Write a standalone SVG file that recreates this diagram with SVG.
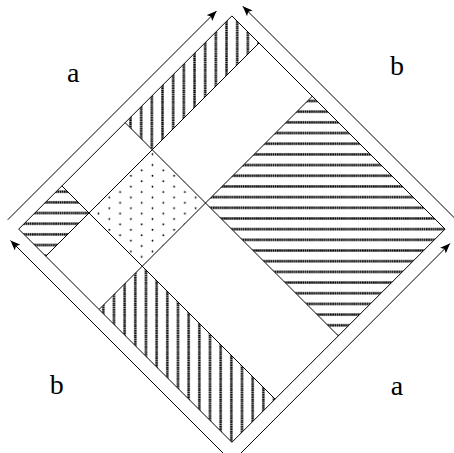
<svg xmlns="http://www.w3.org/2000/svg" width="454" height="453" viewBox="0 0 454 453">
<style>
.edge{fill:none;stroke:#000;stroke-width:1}
.arrow{fill:none;stroke:#000;stroke-width:1;marker-end:url(#ah)}
.hl{stroke:#000;stroke-width:2.4;stroke-dasharray:1.7 0.43}
.lbl{font-family:"Liberation Serif","DejaVu Serif",serif;font-size:28px;text-anchor:middle;fill:#000}
</style>
<defs>
<marker id="ah" viewBox="0 0 10 8" refX="10" refY="4" markerWidth="10" markerHeight="8" markerUnits="userSpaceOnUse" orient="auto">
<path d="M0,0 L10,4 L0,8 L2.2,4 Z" fill="#000"/>
</marker>
<pattern id="vTop" patternUnits="userSpaceOnUse" x="125.165" y="0" width="10.67" height="10.65">
<line class="hl" x1="5.335" y1="0" x2="5.335" y2="10.65"/>
</pattern>
<pattern id="vBot" patternUnits="userSpaceOnUse" x="97.965" y="0" width="10.67" height="10.65">
<line class="hl" x1="5.335" y1="0" x2="5.335" y2="10.65"/>
</pattern>
<pattern id="hRight" patternUnits="userSpaceOnUse" x="0" y="95.66" width="10.65" height="10.68">
<line class="hl" x1="0" y1="5.34" x2="10.65" y2="5.34"/>
</pattern>
<pattern id="hLeft" patternUnits="userSpaceOnUse" x="0" y="186.365" width="10.65" height="10.67">
<line class="hl" x1="0" y1="5.335" x2="10.65" y2="5.335"/>
</pattern>
<pattern id="dots" patternUnits="userSpaceOnUse" x="136.3" y="162.3" width="21.6" height="10.8">
<circle cx="5.4" cy="8.1" r="0.9" fill="#000"/>
<circle cx="16.2" cy="2.7" r="0.9" fill="#000"/>
</pattern>
</defs>
<g id="region-top-band">
<polygon points="231.9,15.9 259,43 152.25,149.75 125.15,122.65" fill="url(#vTop)"/>
</g>
<g id="region-left-small">
<polygon points="61.9,185.9 89,213 45.8,256.2 18.7,229.1" fill="url(#hLeft)"/>
</g>
<g id="region-dots">
<polygon points="152.25,149.75 205.5,203 142.25,266.25 89,213" fill="url(#dots)"/>
</g>
<g id="region-right">
<polygon points="312.25,96.25 445.1,229.1 338.35,335.85 205.5,203" fill="url(#hRight)"/>
</g>
<g id="region-bottom-band">
<polygon points="142.25,266.25 275.1,399.1 231.9,442.3 99.05,309.45" fill="url(#vBot)"/>
</g>
<g id="diamond">
<polygon class="edge" points="18.7,229.1 231.9,15.9 445.1,229.1 231.9,442.3"/>
</g>
<g id="connectors">
<line class="edge" x1="259" y1="43" x2="45.8" y2="256.2"/>
<line class="edge" x1="312.25" y1="96.25" x2="99.05" y2="309.45"/>
<line class="edge" x1="125.15" y1="122.65" x2="338.35" y2="335.85"/>
<line class="edge" x1="61.9" y1="185.9" x2="275.1" y2="399.1"/>
<line class="arrow" x1="7.75" y1="219.75" x2="216.5" y2="11"/>
<line class="arrow" x1="241" y1="453" x2="450" y2="243.5"/>
<line class="arrow" x1="456.25" y1="219.75" x2="242.75" y2="6.25"/>
<line class="arrow" x1="223" y1="453" x2="10.5" y2="240.5"/>
</g>
<g id="labels">
<text class="lbl" x="73.3" y="81.7">a</text>
<text class="lbl" x="397" y="75">b</text>
<text class="lbl" x="56.7" y="393.7">b</text>
<text class="lbl" x="397" y="395.3">a</text>
</g>
</svg>
